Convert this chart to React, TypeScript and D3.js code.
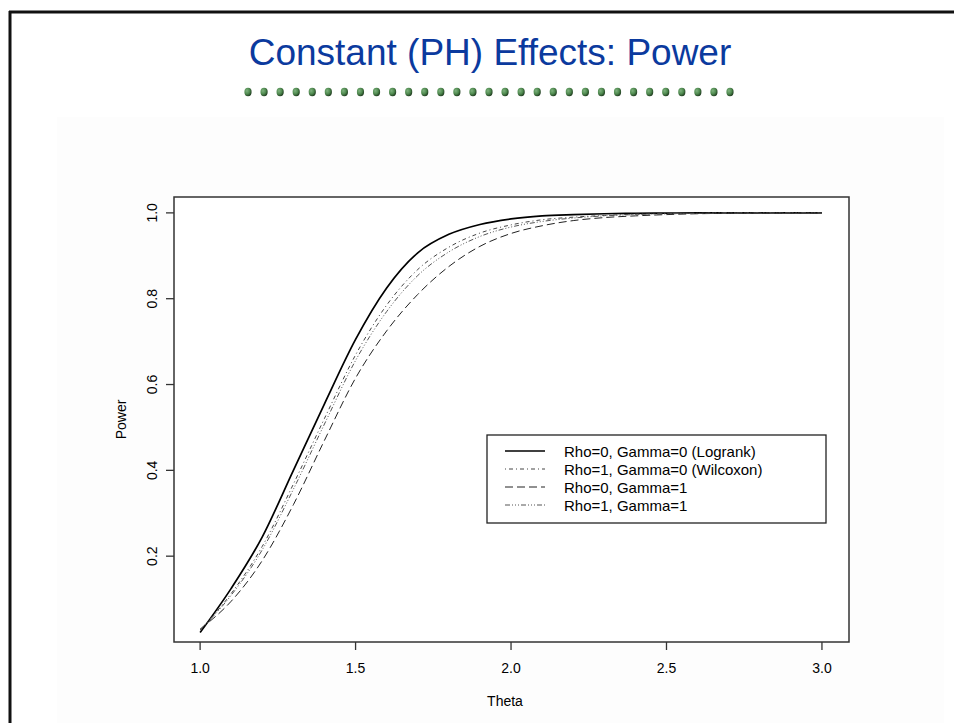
import React, { useEffect } from "react";
import * as d3 from "d3";

const theta = [1.0, 1.1, 1.2, 1.3, 1.4, 1.5, 1.6, 1.7, 1.8, 1.9, 2.0, 2.1, 2.2, 2.3, 2.4, 2.5, 2.6, 2.7, 2.8, 2.9, 3.0];
const logrank = [0.022, 0.125, 0.245, 0.4, 0.555, 0.705, 0.825, 0.907, 0.95, 0.973, 0.986, 0.993, 0.996, 0.998, 0.999, 0.9995, 1.0, 1.0, 1.0, 1.0, 1.0];
const wilcoxon = [0.028, 0.113, 0.223, 0.368, 0.521, 0.669, 0.785, 0.868, 0.92, 0.953, 0.972, 0.984, 0.99, 0.994, 0.997, 0.998, 0.999, 1.0, 1.0, 1.0, 1.0];
const rho0gamma1 = [0.03, 0.095, 0.19, 0.32, 0.47, 0.615, 0.725, 0.81, 0.875, 0.922, 0.952, 0.97, 0.982, 0.989, 0.993, 0.996, 0.998, 0.999, 0.9995, 1.0, 1.0];
const rho1gamma1 = [0.028, 0.109, 0.215, 0.356, 0.508, 0.656, 0.77, 0.854, 0.909, 0.945, 0.967, 0.98, 0.988, 0.993, 0.996, 0.998, 0.999, 1.0, 1.0, 1.0, 1.0];
const seriesLabels = ["Rho=0, Gamma=0 (Logrank)", "Rho=1, Gamma=0 (Wilcoxon)", "Rho=0, Gamma=1", "Rho=1, Gamma=1"];
const xTicks = [1.0, 1.5, 2.0, 2.5, 3.0];
const yTicks = [0.2, 0.4, 0.6, 0.8, 1.0];
const titleText = "Constant (PH) Effects: Power";
const dotCount = 31;

const styles = [
  { dash: "none", width: 1.7, color: "#000" },
  { dash: "1,3,4,3", width: 1, color: "#444" },
  { dash: "8,4", width: 1, color: "#222" },
  { dash: "5,2,1,2,1,2,1,2", width: 1, color: "#555" },
];

export default function App() {
  useEffect(() => {
    document.body.style.margin = "0";
  }, []);
  const W = 954, H = 723;
  const box = { left: 174, right: 849, top: 197, bottom: 642 };
  const x = d3.scaleLinear().domain([0.916, 3.087]).range([box.left, box.right]);
  const y = d3.scaleLinear().domain([0.0, 1.037]).range([box.bottom, box.top]);
  const all = [logrank, wilcoxon, rho0gamma1, rho1gamma1];
  const line = d3.line<number>().x((_, i) => x(theta[i])).y((d) => y(d)).curve(d3.curveMonotoneX);
  const font = "'Liberation Sans', Arial, Helvetica, sans-serif";
  const dots = d3.range(dotCount);
  const dotX = d3.scaleLinear().domain([0, dotCount - 1]).range([248, 730]);
  const legendRows = [451, 469, 487, 505];

  return (
    <svg width={W} height={H} style={{ position: "absolute", left: 0, top: 0, display: "block" }} fontFamily={font}>
      <defs>
        <radialGradient id="dotg" cx="35%" cy="35%" r="70%">
          <stop offset="0%" stopColor="#7fb27f" />
          <stop offset="55%" stopColor="#4f8a4f" />
          <stop offset="100%" stopColor="#1e3a1e" />
        </radialGradient>
      </defs>
      <rect x={0} y={0} width={W} height={H} fill="#fff" />
      <rect x={57} y={117} width={887} height={H - 117} fill="#fdfdfd" />
      <line x1={9} y1={12} x2={W} y2={12} stroke="#111" strokeWidth={3} />
      <line x1={10} y1={11} x2={10} y2={H} stroke="#111" strokeWidth={3} />
      <text x={490} y={52} textAnchor="middle" dominantBaseline="central" fontSize={37} fill="#0b3a9e">{titleText}</text>
      {dots.map((i) => (
        <ellipse key={i} cx={dotX(i)} cy={92} rx={3.6} ry={4.2} fill="url(#dotg)" />
      ))}
      <rect x={box.left} y={box.top} width={box.right - box.left} height={box.bottom - box.top} fill="#fff" stroke="#333" strokeWidth={1.5} />
      {all.map((s, k) => (
        <path key={k} d={line(s) || ""} fill="none" stroke={styles[k].color} strokeWidth={styles[k].width} strokeDasharray={styles[k].dash} />
      ))}
      {xTicks.map((t) => (
        <g key={t}>
          <line x1={x(t)} x2={x(t)} y1={box.bottom} y2={box.bottom + 8} stroke="#333" strokeWidth={1.3} />
          <text x={x(t)} y={668} textAnchor="middle" dominantBaseline="central" fontSize={14}>{t.toFixed(1)}</text>
        </g>
      ))}
      {yTicks.map((t) => (
        <g key={t}>
          <line x1={box.left - 8} x2={box.left} y1={y(t)} y2={y(t)} stroke="#333" strokeWidth={1.3} />
          <text transform={`translate(152,${y(t)}) rotate(-90)`} textAnchor="middle" dominantBaseline="central" fontSize={14}>{t.toFixed(1)}</text>
        </g>
      ))}
      <text x={505} y={701} textAnchor="middle" dominantBaseline="central" fontSize={14}>Theta</text>
      <text transform={`translate(121,${(box.top + box.bottom) / 2}) rotate(-90)`} textAnchor="middle" dominantBaseline="central" fontSize={14}>Power</text>
      <rect x={487} y={435} width={339} height={88} fill="#fff" stroke="#222" strokeWidth={1.3} />
      {seriesLabels.map((lab, k) => (
        <g key={lab}>
          <line x1={505} x2={545} y1={legendRows[k]} y2={legendRows[k]} stroke={styles[k].color} strokeWidth={styles[k].width} strokeDasharray={styles[k].dash} />
          <text x={564} y={legendRows[k]} dominantBaseline="central" fontSize={15}>{lab}</text>
        </g>
      ))}
    </svg>
  );
}
